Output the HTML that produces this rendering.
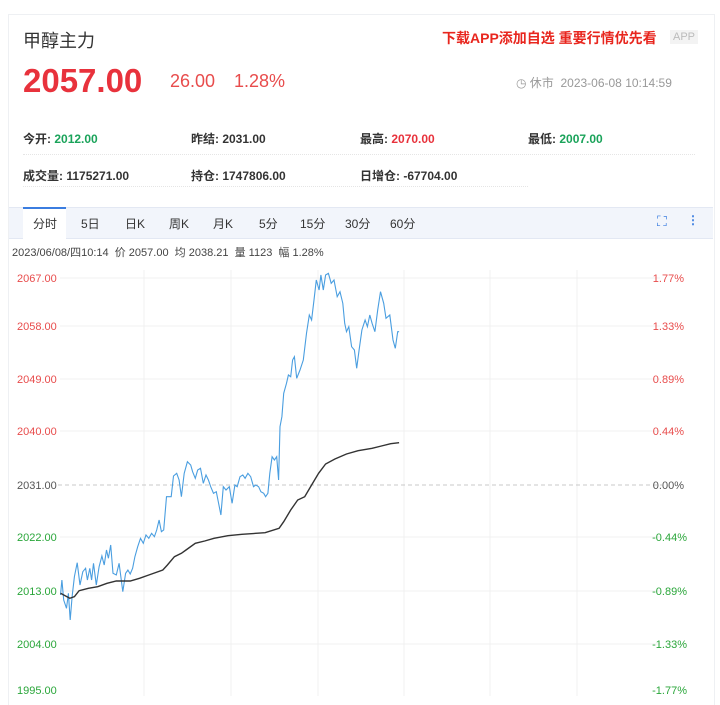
<!DOCTYPE html>
<html><head><meta charset="utf-8"><style>
body{margin:0;width:720px;height:696px;background:#fff;font-family:"Liberation Sans","Noto Sans CJK SC",sans-serif;position:relative;overflow:hidden}
.a{position:absolute;white-space:nowrap}
.card{position:absolute;left:8px;top:14px;width:705px;height:690px;border:1px solid #eef0f3;border-bottom:none}
.lab{color:#333;font-size:12px;font-weight:bold}
</style></head><body>
<div class="card"></div>
<div class="a" style="left:23px;top:27px;font-size:18px;color:#333">甲醇主力</div>
<div class="a" style="left:442px;top:28px;font-size:14px;color:#e8261e;font-weight:bold">下载APP添加自选 重要行情优先看</div>
<div class="a" style="left:670px;top:30px;font-size:11px;color:#bbb;background:#f3f3f3;padding:1px 3px">APP</div>
<div class="a" style="left:23px;top:62px;font-size:33px;color:#e8323c;font-weight:bold">2057.00</div>
<div class="a" style="left:170px;top:71px;font-size:18px;color:#e84c4c">26.00</div>
<div class="a" style="left:234px;top:71px;font-size:18px;color:#e84c4c">1.28%</div>
<div class="a" style="left:516px;top:74px;font-size:12px;color:#999">◷ 休市 &nbsp;2023-06-08 10:14:59</div>
<div class="a lab" style="left:23px;top:130px">今开: <span style="color:#1aa35a">2012.00</span></div>
<div class="a lab" style="left:191px;top:130px">昨结: 2031.00</div>
<div class="a lab" style="left:360px;top:130px">最高: <span style="color:#e8323c">2070.00</span></div>
<div class="a lab" style="left:528px;top:130px">最低: <span style="color:#1aa35a">2007.00</span></div>
<div style="position:absolute;left:23px;top:154px;width:672px;border-top:1px dotted #e5e5e5"></div>
<div class="a lab" style="left:23px;top:167px">成交量: 1175271.00</div>
<div class="a lab" style="left:191px;top:167px">持仓: 1747806.00</div>
<div class="a lab" style="left:360px;top:167px">日增仓: -67704.00</div>
<div style="position:absolute;left:23px;top:186px;width:505px;border-top:1px dotted #e5e5e5"></div>
<div style="position:absolute;left:9px;top:207px;width:704px;height:30px;background:#f2f5fb;border-top:1px solid #e3e8f3;border-bottom:1px solid #e3e8f3"></div>
<div style="position:absolute;left:23px;top:207px;width:43px;height:31px;background:#fff;border-top:2px solid #3b7de0"></div>
<div class="a" style="left:0;top:215px;font-size:12px;color:#333;width:720px">
<span class="a" style="left:33px">分时</span><span class="a" style="left:81px">5日</span><span class="a" style="left:125px">日K</span><span class="a" style="left:169px">周K</span><span class="a" style="left:213px">月K</span><span class="a" style="left:259px">5分</span><span class="a" style="left:300px">15分</span><span class="a" style="left:345px">30分</span><span class="a" style="left:390px">60分</span>
<span class="a" style="left:657px;color:#3b7de0;font-size:14px;top:-2px">⛶</span><span class="a" style="left:687px;color:#3b7de0;font-weight:bold;top:-2px">⋮</span></div>
<div class="a" style="left:12px;top:244px;font-size:11px;color:#444">2023/06/08/四10:14 &nbsp;价 2057.00 &nbsp;均 2038.21 &nbsp;量 1123 &nbsp;幅 1.28%</div>
<svg class="a" style="left:0;top:0" width="720" height="696" id="s">
<g stroke="#f0f0f0" stroke-width="1">
<line x1="144" y1="270" x2="144" y2="696"/><line x1="231" y1="270" x2="231" y2="696"/><line x1="318" y1="270" x2="318" y2="696"/><line x1="404" y1="270" x2="404" y2="696"/><line x1="490" y1="270" x2="490" y2="696"/><line x1="577" y1="270" x2="577" y2="696"/>
<line x1="60" y1="278" x2="660" y2="278"/><line x1="60" y1="326" x2="660" y2="326"/><line x1="60" y1="379" x2="660" y2="379"/><line x1="60" y1="431" x2="660" y2="431"/><line x1="60" y1="537" x2="660" y2="537"/><line x1="60" y1="591" x2="660" y2="591"/><line x1="60" y1="644" x2="660" y2="644"/>
</g>
<line x1="58" y1="485" x2="662" y2="485" stroke="#c8c8c8" stroke-dasharray="4,3"/>
<g font-size="11" font-family="Liberation Sans,sans-serif">
<text x="17" y="282" fill="#e84c4c">2067.00</text><text x="17" y="330" fill="#e84c4c">2058.00</text><text x="17" y="383" fill="#e84c4c">2049.00</text><text x="17" y="435" fill="#e84c4c">2040.00</text><text x="17" y="489" fill="#555">2031.00</text><text x="17" y="541" fill="#2aa63a">2022.00</text><text x="17" y="595" fill="#2aa63a">2013.00</text><text x="17" y="648" fill="#2aa63a">2004.00</text><text x="17" y="694" fill="#2aa63a">1995.00</text>
<g text-anchor="end"><text x="684" y="282" fill="#e84c4c">1.77%</text><text x="684" y="330" fill="#e84c4c">1.33%</text><text x="684" y="383" fill="#e84c4c">0.89%</text><text x="684" y="435" fill="#e84c4c">0.44%</text><text x="684" y="489" fill="#555">0.00%</text><text x="687" y="541" fill="#2aa63a">-0.44%</text><text x="687" y="595" fill="#2aa63a">-0.89%</text><text x="687" y="648" fill="#2aa63a">-1.33%</text><text x="687" y="694" fill="#2aa63a">-1.77%</text></g>
</g>
<polyline id="p" fill="none" stroke="#4a9ee0" stroke-width="1.1"/>
<polyline id="v" fill="none" stroke="#333" stroke-width="1.4"/>
</svg>
<script>
var P=[130,1005,133,960,137,1020,143,1045,147,1000,151,1080,155,1010,160,950,166,908,172,975,178,935,184,925,188,960,193,925,197,960,201,910,207,975,213,920,219,888,224,915,229,870,233,895,238,855,243,940,250,945,256,910,264,995,270,940,275,930,280,942,285,925,290,890,296,860,302,835,308,850,314,825,320,835,326,820,332,830,337,810,342,780,347,815,352,810,358,710,368,710,373,648,380,640,385,660,390,710,396,640,403,605,410,615,414,635,420,655,425,630,431,625,437,670,443,645,448,660,453,680,459,700,465,695,470,730,475,765,480,680,486,690,493,680,499,730,505,675,510,680,516,650,522,645,527,655,533,640,539,650,545,680,550,675,556,680,561,695,567,700,571,710,576,700,580,640,585,590,590,600,595,590,599,660,602,500,606,470,610,400,616,370,620,345,625,350,629,300,633,290,638,355,645,330,652,300,659,220,665,165,670,180,675,120,680,60,686,90,690,45,695,90,700,45,706,40,712,70,718,60,725,110,731,95,737,130,741,190,745,215,750,200,756,260,762,270,767,325,772,270,778,210,785,180,790,200,795,165,800,190,806,215,812,150,818,95,825,130,830,175,838,165,845,240,850,265,855,215,858,215];
var V=[130,1000,150,1015,160,1010,170,992,190,985,210,980,230,970,250,963,280,963,300,955,320,945,350,930,360,915,375,890,390,880,400,870,420,850,440,843,460,835,490,827,520,823,570,818,600,805,610,785,625,750,640,720,655,710,670,675,685,640,700,612,720,597,745,582,770,572,800,565,820,558,840,551,858,548];
function c(a){var s=[];for(var i=0;i<a.length;i+=2)s.push((a[i]/2.15).toFixed(1)+","+(260+a[i+1]/3).toFixed(1));return s.join(" ");}
document.getElementById("p").setAttribute("points",c(P));
document.getElementById("v").setAttribute("points",c(V));
</script>
</body></html>
